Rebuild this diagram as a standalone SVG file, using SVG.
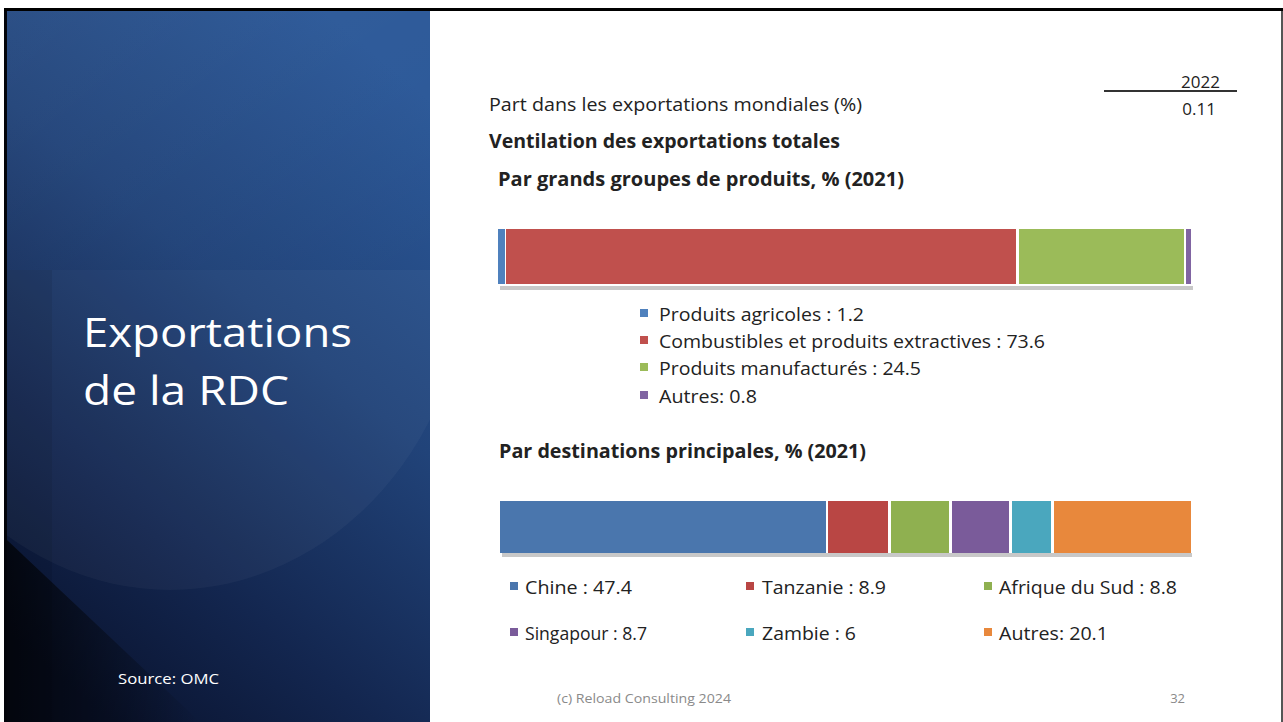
<svg xmlns="http://www.w3.org/2000/svg" width="1283" height="722" viewBox="0 0 1283 722">
<defs>
<linearGradient id="panel" x1="0.75" y1="0" x2="0.25" y2="1">
<stop offset="0" stop-color="#2b5898"/>
<stop offset="0.4" stop-color="#214379"/>
<stop offset="0.75" stop-color="#13264f"/>
<stop offset="1" stop-color="#0a1430"/>
</linearGradient>
<linearGradient id="topband" x1="0" y1="0" x2="1" y2="1">
<stop offset="0" stop-color="#ffffff" stop-opacity="0.04"/>
<stop offset="1" stop-color="#ffffff" stop-opacity="0.0"/>
</linearGradient>
<linearGradient id="corner" x1="0" y1="0" x2="1" y2="0">
<stop offset="0" stop-color="#000000" stop-opacity="0.7"/>
<stop offset="1" stop-color="#000000" stop-opacity="0"/>
</linearGradient>
<clipPath id="lower"><rect x="7" y="270" width="423" height="452"/></clipPath>
<style>
.t{font-family:"Open Sans","Noto Sans","Liberation Sans",sans-serif;fill:#222;}
.b{font-weight:bold;}
.w{fill:#ffffff;font-family:"Open Sans","Noto Sans","Liberation Sans",sans-serif;}
.f{font-family:"Open Sans","Noto Sans","Liberation Sans",sans-serif;fill:#8a8a8a;font-size:13px;}
.lg{font-size:18px;}
</style>
</defs>
<rect width="1283" height="722" fill="#ffffff"/>
<g id="left-panel">
<rect x="4" y="8" width="426" height="714" fill="#02040a"/>
<rect x="7" y="11" width="423" height="711" fill="url(#panel)"/>
<rect x="7" y="11" width="423" height="259" fill="url(#topband)"/>
<rect x="7" y="270" width="45" height="452" fill="#000000" opacity="0.08"/>
<ellipse cx="170" cy="250" rx="300" ry="340" fill="#ffffff" opacity="0.035" clip-path="url(#lower)"/>
<polygon points="7,540 7,722 200,722" fill="url(#corner)"/>
<text class="w" x="83" y="347" font-size="40" textLength="269" lengthAdjust="spacingAndGlyphs">Exportations</text>
<text class="w" x="83" y="405" font-size="40" textLength="206" lengthAdjust="spacingAndGlyphs">de la RDC</text>
<text class="w" x="118" y="684" font-size="15" textLength="101" lengthAdjust="spacingAndGlyphs">Source: OMC</text>
</g>
<g id="frame">
<rect x="4" y="8" width="1279" height="3" fill="#000000"/>
<rect x="1281" y="11" width="2" height="711" fill="#555555"/>
</g>
<g id="header">
<text class="t" x="1220" y="88" font-size="17" text-anchor="end">2022</text>
<rect x="1104" y="90" width="133" height="2" fill="#333333"/>
<text class="t" x="1216" y="115" font-size="17" text-anchor="end">0.11</text>
<text class="t" x="489" y="111" font-size="19" textLength="373" lengthAdjust="spacingAndGlyphs">Part dans les exportations mondiales (%)</text>
<text class="t b" x="489" y="148" font-size="19" textLength="351" lengthAdjust="spacingAndGlyphs">Ventilation des exportations totales</text>
<text class="t b" x="498" y="186" font-size="19" textLength="406" lengthAdjust="spacingAndGlyphs">Par grands groupes de produits, % (2021)</text>
</g>
<g id="bar-produits">
<rect x="500" y="286" width="693" height="4" fill="#c8c8c8"/>
<rect x="498" y="229" width="7" height="55" fill="#4f81bd"/>
<rect x="506" y="229" width="510" height="55" fill="#c0504d"/>
<rect x="1019" y="229" width="165" height="55" fill="#9bbb59"/>
<rect x="1186" y="229" width="5" height="55" fill="#8064a2"/>
</g>
<g id="legend-produits">
<rect x="640" y="309" width="8" height="8" fill="#4f81bd"/>
<text class="t lg" x="659" y="321" textLength="205" lengthAdjust="spacingAndGlyphs">Produits agricoles : 1.2</text>
<rect x="640" y="336" width="8" height="8" fill="#c0504d"/>
<text class="t lg" x="659" y="348" textLength="386" lengthAdjust="spacingAndGlyphs">Combustibles et produits extractives : 73.6</text>
<rect x="640" y="363" width="8" height="8" fill="#9bbb59"/>
<text class="t lg" x="659" y="375" textLength="262" lengthAdjust="spacingAndGlyphs">Produits manufacturés : 24.5</text>
<rect x="640" y="391" width="8" height="8" fill="#8064a2"/>
<text class="t lg" x="659" y="403" textLength="98" lengthAdjust="spacingAndGlyphs">Autres: 0.8</text>
</g>
<g id="subtitle-destinations">
<text class="t b" x="499" y="458" font-size="19" textLength="367" lengthAdjust="spacingAndGlyphs">Par destinations principales, % (2021)</text>
</g>
<g id="bar-destinations">
<rect x="502" y="553" width="690" height="4" fill="#c8c8c8"/>
<rect x="500" y="501" width="326" height="52" fill="#4a76ad"/>
<rect x="828" y="501" width="60" height="52" fill="#b94644"/>
<rect x="891" y="501" width="58" height="52" fill="#8fb050"/>
<rect x="952" y="501" width="57" height="52" fill="#7a5b9a"/>
<rect x="1012" y="501" width="39" height="52" fill="#4aa7be"/>
<rect x="1054" y="501" width="137" height="52" fill="#e8883c"/>
</g>
<g id="legend-destinations">
<rect x="510" y="582" width="8" height="8" fill="#4a76ad"/>
<text class="t lg" x="525" y="594" textLength="107" lengthAdjust="spacingAndGlyphs">Chine : 47.4</text>
<rect x="746" y="582" width="8" height="8" fill="#b94644"/>
<text class="t lg" x="762" y="594" textLength="124" lengthAdjust="spacingAndGlyphs">Tanzanie : 8.9</text>
<rect x="984" y="582" width="8" height="8" fill="#8fb050"/>
<text class="t lg" x="999" y="594" textLength="178" lengthAdjust="spacingAndGlyphs">Afrique du Sud : 8.8</text>
<rect x="510" y="628" width="8" height="8" fill="#7a5b9a"/>
<text class="t lg" x="525" y="640" textLength="122" lengthAdjust="spacingAndGlyphs">Singapour : 8.7</text>
<rect x="746" y="628" width="8" height="8" fill="#4aa7be"/>
<text class="t lg" x="762" y="640" textLength="94" lengthAdjust="spacingAndGlyphs">Zambie : 6</text>
<rect x="984" y="628" width="8" height="8" fill="#e8883c"/>
<text class="t lg" x="999" y="640" textLength="109" lengthAdjust="spacingAndGlyphs">Autres: 20.1</text>
</g>
<g id="footer">
<text class="f" x="557" y="703" textLength="174" lengthAdjust="spacingAndGlyphs">(c) Reload Consulting 2024</text>
<text class="f" x="1185" y="703" text-anchor="end">32</text>
</g>
</svg>
